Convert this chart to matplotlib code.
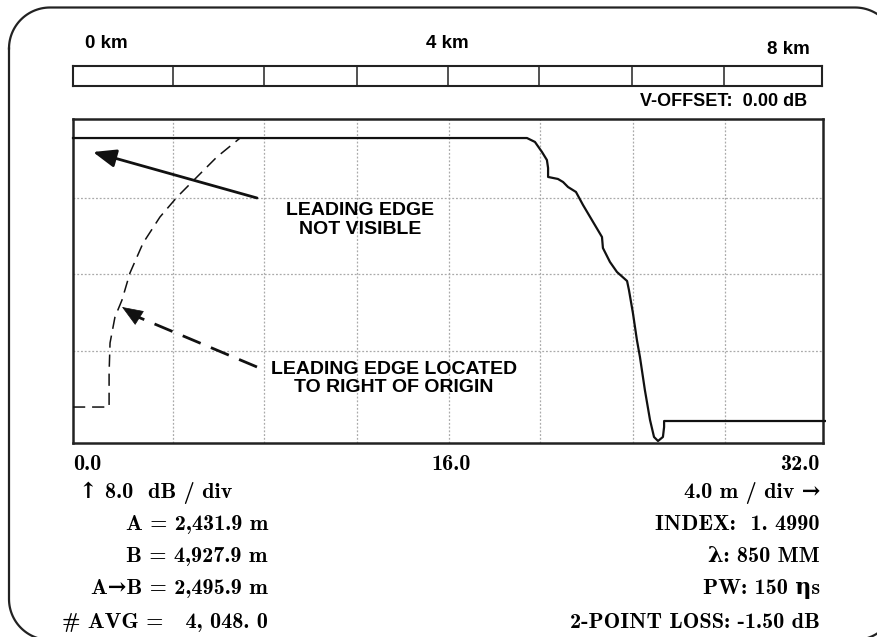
import matplotlib
matplotlib.use("Agg")
import matplotlib.pyplot as plt
import numpy as np

# ---------------- data ----------------
trace_dist = [0.0, 19.37, 19.71, 20.01, 20.22, 20.27, 20.27, 20.69, 20.91, 21.12,
              21.46, 21.76, 22.19, 22.57, 22.61, 22.91, 23.21, 23.64, 23.72, 23.89,
              24.06, 24.19, 24.40, 24.62, 24.79, 24.96, 25.17, 25.22, 25.22, 32.08]
trace_level = [30.27, 30.27, 29.86, 28.81, 27.97, 27.14, 26.20, 25.99, 25.67, 25.15,
               24.63, 23.27, 21.49, 19.92, 18.77, 17.31, 16.26, 15.32, 14.38, 11.97,
               9.15, 7.37, 3.92, 0.78, -0.99, -1.41, -0.99, 0.05, 0.68, 0.68]

edge_dist = [0.0, 1.54, 1.54, 1.58, 1.79, 2.09, 2.43, 2.99, 3.71, 4.44, 5.29, 6.14, 7.13]
edge_level = [2.14, 2.14, 5.70, 8.84, 11.55, 13.33, 16.16, 19.29, 22.01, 24.10, 26.20, 28.29, 30.27]

x_ticks = [0.0, 16.0, 32.0]
x_grid = [4.27, 8.15, 12.12, 16.04, 19.93, 23.89, 27.82]
y_grid = [8, 16, 24]
km_labels = ["0 km", "4 km", "8 km"]

left_info = ["\u2191 8.0  dB / div", "A = 2,431.9 m", "B = 4,927.9 m",
             "A\u2192B = 2,495.9 m", "# AVG =   4, 048. 0"]
right_info = ["4.0 m / div \u2192", "INDEX:  1. 4990", "\u03bb: 850 MM",
              "PW: 150 \u03b7s", "2-POINT LOSS: -1.50 dB"]

# ---------------- figure ----------------
W, H = 878, 637
fig = plt.figure(figsize=(W / 100, H / 100), dpi=100)
fig.patch.set_facecolor("white")

def fx(px):
    return px / W

def fy(py):
    return 1 - py / H

# background axes in pixel units for the rounded outer frame
bg = fig.add_axes([0, 0, 1, 1])
bg.set_xlim(0, W)
bg.set_ylim(H, 0)
bg.axis("off")
fl, fr, ft, fb, r = 9, 896, 7.5, 640, 41
pts = []
for (cx, cy, a0, a1) in [(fl + r, ft + r, 180, 270), (fr - r, ft + r, 270, 360),
                         (fr - r, fb - r, 0, 90), (fl + r, fb - r, 90, 180)]:
    t = np.radians(np.linspace(a0, a1, 30))
    pts += list(zip(cx + r * np.cos(t), cy + r * np.sin(t)))
pts.append(pts[0])
px_, py_ = zip(*pts)
bg.plot(px_, py_, color="#222222", linewidth=1.6, clip_on=False)

sans = ["Liberation Sans", "DejaVu Sans"]
serif = ["cmb10", "DejaVu Serif"]

# ---------------- top km bar ----------------
bar = fig.add_axes([fx(73), fy(86), fx(822) - fx(73), fy(66) - fy(86)])
bar.set_xlim(0, 32)
bar.set_ylim(0, 1)
for xg in x_grid:
    bar.axvline(xg, color="#222222", linewidth=1.1)
bar.set_xticks([])
bar.set_yticks([])
for s in bar.spines.values():
    s.set_linewidth(1.5)
    s.set_color("#222222")

fig.text(fx(85), fy(44), km_labels[0], ha="left", va="center", fontsize=13.5,
         fontweight="bold", family=sans)
fig.text(fx(447), fy(44), km_labels[1], ha="center", va="center", fontsize=13.5,
         fontweight="bold", family=sans)
fig.text(fx(810), fy(50), km_labels[2], ha="right", va="center", fontsize=13.5,
         fontweight="bold", family=sans)
fig.text(fx(807), fy(101), "V-OFFSET:  0.00 dB", ha="right", va="center",
         fontsize=13, fontweight="bold", family=sans)

# ---------------- main trace axes ----------------
ax = fig.add_axes([fx(73), fy(443), fx(823) - fx(73), fy(119) - fy(443)])
ax.set_xlim(0, 32)
ax.set_ylim(-1.62, 32.26)
for xg in x_grid:
    ax.axvline(xg, color="#aaaaaa", linewidth=0.9, linestyle=(0, (1.5, 1.5)), zorder=0)
for yg in y_grid:
    ax.axhline(yg, color="#aaaaaa", linewidth=0.9, linestyle=(0, (1.5, 1.5)), zorder=0)
ax.set_xticks([])
ax.set_yticks([])
for s in ax.spines.values():
    s.set_linewidth(1.8)
    s.set_color("#222222")

ax.plot(trace_dist, trace_level, color="#111111", linewidth=1.6,
        solid_joinstyle="round", clip_on=False, zorder=3)
ax.plot(edge_dist, edge_level, color="#111111", linewidth=1.1,
        linestyle=(0, (8, 4.5)), zorder=3)

# solid arrow
ax.annotate("", xy=(0.85, 28.81), xytext=(7.85, 24.0),
            arrowprops=dict(arrowstyle="-|>,head_length=1.4,head_width=0.55",
                            color="#111111", linewidth=2.0, shrinkA=0, shrinkB=0))
# dashed arrow: dashed shaft + solid head
ax.plot([7.85, 2.7], [6.33, 11.63], color="#111111", linewidth=2.0,
        linestyle=(0, (7, 4)))
ax.annotate("", xy=(2.09, 12.60), xytext=(2.9, 11.35),
            arrowprops=dict(arrowstyle="-|>,head_length=1.4,head_width=0.55",
                            color="#111111", linewidth=0.5, shrinkA=0, shrinkB=0))

ax.text(12.25, 21.7, "LEADING EDGE\nNOT VISIBLE", ha="center", va="center",
        fontsize=14, fontweight="bold", family=sans, linespacing=1.1)
ax.text(13.7, 5.1, "LEADING EDGE LOCATED\nTO RIGHT OF ORIGIN", ha="center",
        va="center", fontsize=14, fontweight="bold", family=sans, linespacing=1.1)

# ---------------- bottom labels ----------------
fs = 16
fig.text(fx(73), fy(464), "%.1f" % x_ticks[0], ha="left", va="center",
         fontsize=fs, fontweight="bold", family=serif)
fig.text(fx(451), fy(464), "%.1f" % x_ticks[1], ha="center", va="center",
         fontsize=fs, fontweight="bold", family=serif)
fig.text(fx(820), fy(464), "%.1f" % x_ticks[2], ha="right", va="center",
         fontsize=fs, fontweight="bold", family=serif)

left_y = [493, 525, 557, 589, 622]
right_y = [493, 524, 556, 589, 622]
fig.text(fx(79), fy(left_y[0]), left_info[0], ha="left", va="center",
         fontsize=fs, fontweight="bold", family=serif)
for txt, yy in zip(left_info[1:], left_y[1:]):
    fig.text(fx(268), fy(yy), txt, ha="right", va="center",
             fontsize=fs, fontweight="bold", family=serif)
for txt, yy in zip(right_info, right_y):
    fig.text(fx(820), fy(yy), txt, ha="right", va="center",
             fontsize=fs, fontweight="bold", family=serif)

fig.savefig("out.png", dpi=100, facecolor="white")
